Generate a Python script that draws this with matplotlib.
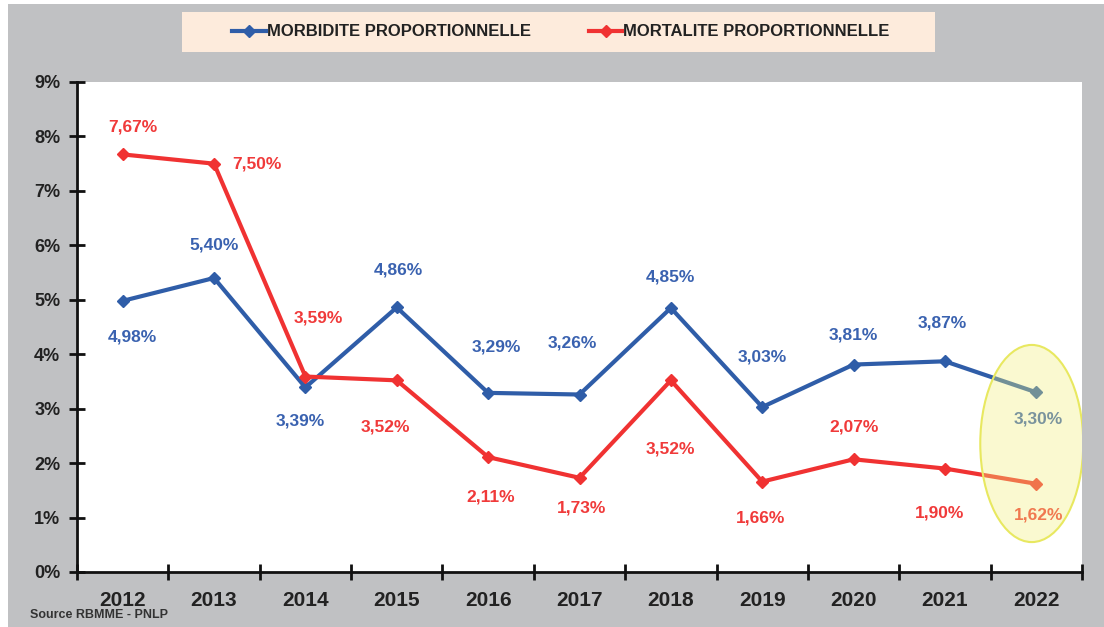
import matplotlib.pyplot as plt
from matplotlib.patches import Rectangle, Ellipse

# data
years = ['2012', '2013', '2014', '2015', '2016', '2017', '2018', '2019', '2020', '2021', '2022']
morbidite = [4.98, 5.40, 3.39, 4.86, 3.29, 3.26, 4.85, 3.03, 3.81, 3.87, 3.30]
mortalite = [7.67, 7.50, 3.59, 3.52, 2.11, 1.73, 3.52, 1.66, 2.07, 1.90, 1.62]
yticks = [0, 1, 2, 3, 4, 5, 6, 7, 8, 9]

# label offsets in pixels (dx, dy)
off_morb = [(10, -36), (0, 33), (-5, -34), (2, 37), (8, 46), (-7, 52), (0, 31), (0, 50), (0, 30), (-3, 38), (2, -27)]
off_mort = [(10, 27), (43, 0), (13, 59), (-11, -47), (3, -40), (2, -30), (0, -69), (-2, -36), (0, 32), (-5, -44), (2, -31)]

blue = '#2f5da8'
red = '#f03232'
font = ['Liberation Sans Narrow', 'Liberation Sans', 'DejaVu Sans']
plt.rcParams['font.family'] = font

fig = plt.figure(figsize=(11.04, 6.27), dpi=100)
fig.patch.set_facecolor('white')
fig.patches.append(Rectangle((8 / 1104, 0), 1, 1 - 4 / 627, transform=fig.transFigure,
                             facecolor='#c0c1c3', edgecolor='none', zorder=-10))
# legend background
fig.patches.append(Rectangle((182 / 1104, 1 - 52 / 627), 753 / 1104, 40 / 627, transform=fig.transFigure,
                             facecolor='#fdebdc', edgecolor='none', zorder=-5))

ax = fig.add_axes([77 / 1104, 1 - 572 / 627, (1082 - 77) / 1104, (572 - 82) / 627])
ax.set_facecolor('white')

x = list(range(len(years)))
l1, = ax.plot(x, morbidite, color=blue, lw=3, marker='D', ms=6, label='MORBIDITE PROPORTIONNELLE', zorder=3)
l2, = ax.plot(x, mortalite, color=red, lw=3, marker='D', ms=6, label='MORTALITE PROPORTIONNELLE', zorder=3)

for i in x:
    ax.annotate(f'{morbidite[i]:.2f}%'.replace('.', ','), (i, morbidite[i]), xytext=off_morb[i],
                textcoords='offset pixels', ha='center', va='center', color='#3a62b0',
                fontsize=12.5, fontweight='bold', zorder=4)
    ax.annotate(f'{mortalite[i]:.2f}%'.replace('.', ','), (i, mortalite[i]), xytext=off_mort[i],
                textcoords='offset pixels', ha='center', va='center', color='#f03a3a',
                fontsize=12.5, fontweight='bold', zorder=4)

# highlight ellipse on last year
ax.add_patch(Ellipse((9.95, 2.36), 103 / 91.4, 197 / 54.4, facecolor='#f2f07a', alpha=0.35,
                     edgecolor='none', zorder=5))
ax.add_patch(Ellipse((9.95, 2.36), 103 / 91.4, 197 / 54.4, facecolor='none',
                     edgecolor='#e8e860', lw=1.5, zorder=5))

ax.set_xlim(-0.5, len(years) - 0.5)
ax.set_ylim(0, 9)
ax.set_yticks(yticks)
ax.set_yticklabels([f'{v}%' for v in yticks])
ax.set_xticks([i - 0.5 for i in range(len(years) + 1)])
ax.set_xticklabels([])
ax.set_xticks(x, minor=True)
ax.set_xticklabels(years, minor=True)
ax.tick_params(axis='x', which='major', direction='inout', length=12, width=2, color='#111111')
ax.tick_params(axis='x', which='minor', length=0, pad=14, labelsize=15)
ax.tick_params(axis='y', direction='inout', length=12, width=2, color='#111111', labelsize=13, pad=6)
for lab in ax.get_xticklabels(minor=True) + ax.get_yticklabels():
    lab.set_fontweight('bold')
    lab.set_color('#222222')

for s in ['top', 'right']:
    ax.spines[s].set_visible(False)
for s in ['left', 'bottom']:
    ax.spines[s].set_linewidth(2)
    ax.spines[s].set_color('#111111')

leg = fig.legend(handles=[l1, l2], loc='center', bbox_to_anchor=(561 / 1104, 1 - 32 / 627), ncol=2,
                 frameon=False, handlelength=2.0, handletextpad=0.05, columnspacing=3.5,
                 prop={'family': font, 'weight': 'bold', 'size': 12})
for t in leg.get_texts():
    t.set_color('#222222')

fig.text(30 / 1104, 1 - 615 / 627, 'Source RBMME - PNLP', fontsize=9, fontweight='bold',
         color='#333333', va='center', ha='left')

fig.savefig('out.png', dpi=100)
